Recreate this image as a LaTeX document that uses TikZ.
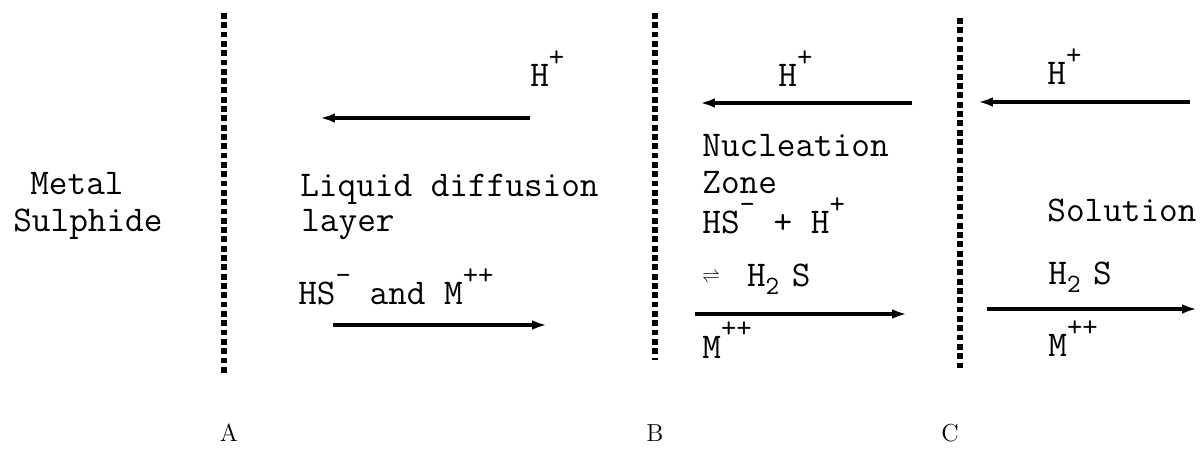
\documentclass[tikz,border=0pt]{standalone}
\usepackage{fontspec}
\usetikzlibrary{positioning,arrows.meta}

\newcommand{\up}[1]{\raisebox{0.57em}{\fontsize{17}{17}\selectfont #1}}
\newcommand{\dn}[1]{\raisebox{-0.2em}{\fontsize{15}{15}\selectfont #1}\hspace{0.35em}}
\newcommand{\eqm}{\raisebox{3pt}{\fontsize{10}{10}\selectfont$\rightleftharpoons$}}

\begin{document}
\begin{tikzpicture}[
	x=0.02cm, y=-0.02cm,
	font=\ttfamily\fontsize{20.6}{22}\selectfont,
	>={Latex[length=8.5pt,width=5.5pt]},
	txt/.style={anchor=base west, inner sep=0pt},
	lbl/.style={anchor=base, inner sep=0pt, font=\rmfamily\fontsize{14}{16}\selectfont},
	wall/.style={line width=3.2pt, dash pattern=on 3.3pt off 2pt},
	flux/.style={->, line width=1.8pt},
]
\useasboundingbox (0,0) rectangle (1203,452);

% ---- boundaries A, B, C ----
\coordinate (Atop) at (224,13);  \coordinate (Abot) at (224,373);
\coordinate (Btop) at (655,13);  \coordinate (Bbot) at (655,360);
\coordinate (Ctop) at (960,18);  \coordinate (Cbot) at (960,368);
\draw[wall] (Atop) -- (Abot);
\draw[wall] (Btop) -- (Bbot);
\draw[wall] (Ctop) -- (Cbot);
\node[lbl] (labA) at (229,441) {A};
\node[lbl] (labB) at (655,441) {B};
\node[lbl] (labC) at (950,441) {C};

% ---- metal sulphide ----
\node[txt] (metal) at (30,195) {Metal};
\node[txt] (sulph) at (13,232) {Sulphide};

% ---- liquid diffusion layer ----
\node[txt] (hA) at (530,87) {H\up{+}};
\coordinate (hAs) at (530,118); \coordinate (hAe) at (320,118);
\draw[flux] (hAs) -- (hAe);
\node[txt] (ldl) at (300,197) {Liquid diffusion};
\node[txt] (lay) at (301,232) {layer};
\node[txt] (hsA) at (298,305) {HS\up{-} and M\up{++}};
\coordinate (mAs) at (333,325); \coordinate (mAe) at (547,325);
\draw[flux] (mAs) -- (mAe);

% ---- nucleation zone ----
\node[txt] (hB) at (778,87) {H\up{+}};
\coordinate (hBs) at (912,103); \coordinate (hBe) at (700,103);
\draw[flux] (hBs) -- (hBe);
\node[txt] (nuc) at (702,157) {Nucleation};
\node[txt] (zone) at (702,194) {Zone};
\node[txt] (hsB) at (702,234) {HS\up{-} + H\up{+}};
\node[txt] (eqB) at (702,287) {\eqm\hspace{0.75em}H\dn{2}S};
\coordinate (mBs) at (695,314); \coordinate (mBe) at (907,314);
\draw[flux] (mBs) -- (mBe);
\node[txt] (mB) at (702,358) {M\up{++}};

% ---- solution ----
\node[txt] (hC) at (1047,85) {H\up{+}};
\coordinate (hCs) at (1190,102); \coordinate (hCe) at (978,102);
\draw[flux] (hCs) -- (hCe);
\node[txt] (sol) at (1047,222) {Solution};
\node[txt] (hsC) at (1048,285) {H\dn{2}S};
\coordinate (mCs) at (987,309); \coordinate (mCe) at (1197,309);
\draw[flux] (mCs) -- (mCe);
\node[txt] (mC) at (1048,357) {M\up{++}};

\end{tikzpicture}
\end{document}
